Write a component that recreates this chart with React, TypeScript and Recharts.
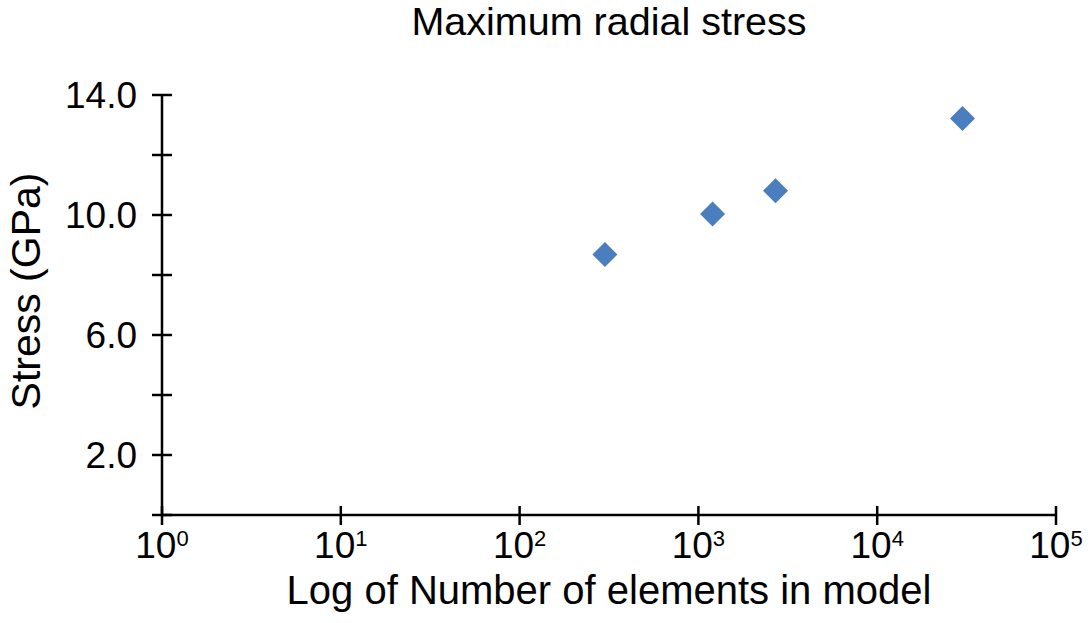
import React from 'react';
import { ScatterChart, Scatter, XAxis, YAxis, Label } from 'recharts';

// Mesh refinement study: number of elements vs peak radial stress
const elementCounts = [300, 1200, 2700, 30000];
const radialStress = [8.68, 10.03, 10.81, 13.22];

const xTicks = [1, 10, 100, 1000, 10000, 100000];
const yTicks = [0, 2, 4, 6, 8, 10, 12, 14];
const yLabelled = [2, 6, 10, 14];

const points = elementCounts.map((n, i) => ({ n, stress: radialStress[i] }));

const font = '"Liberation Sans", Arial, Helvetica, sans-serif';
const blue = '#4a7ebf';
const W = 1088;
const H = 623;

function Diamond(props: any) {
  const { cx, cy } = props;
  const r = 12.5;
  return (
    <polygon
      points={`${cx},${cy - r} ${cx + r},${cy} ${cx},${cy + r} ${cx - r},${cy}`}
      fill={blue}
    />
  );
}

function XTick(props: any) {
  const { x, y, payload } = props;
  const exp = Math.round(Math.log10(payload.value));
  return (
    <g>
      <line x1={x} x2={x} y1={y - 9} y2={y + 10} stroke="#000" strokeWidth={2.5} />
      <text x={x} y={y + 43} textAnchor="middle" fontFamily={font} fontSize={37} fill="#000">
        <tspan>10</tspan>
        <tspan dy={-12} fontSize={22}>{exp}</tspan>
      </text>
    </g>
  );
}

function YTick(props: any) {
  const { x, y, payload } = props;
  const v = payload.value;
  return (
    <g>
      <line x1={x - 10} x2={x + 10} y1={y} y2={y} stroke="#000" strokeWidth={2.5} />
      {yLabelled.includes(v) && (
        <text x={x - 25} y={y + 13} textAnchor="end" fontFamily={font} fontSize={37} fill="#000">
          {v.toFixed(1)}
        </text>
      )}
    </g>
  );
}

export default function App() {
  return (
    <div style={{ position: 'absolute', left: 0, top: 0, width: W, height: H, background: '#fff' }}>
      <div
        style={{
          position: 'absolute', left: 0, top: 2, width: 1218, textAlign: 'center',
          fontFamily: font, fontSize: 39.5, lineHeight: 1, color: '#000',
        }}
      >
        Maximum radial stress
      </div>
      <ScatterChart width={W} height={H} margin={{ top: 95, right: 32, bottom: 0, left: 0 }}>
        <XAxis
          type="number"
          dataKey="n"
          scale="log"
          domain={[1, 100000]}
          ticks={xTicks}
          allowDataOverflow
          height={108}
          tickSize={0}
          tickMargin={0}
          tick={<XTick />}
          stroke="#000"
          strokeWidth={2.5}
        >
          <Label
            content={({ viewBox }: any) => (
              <text
                x={viewBox.x + viewBox.width / 2}
                y={viewBox.y + 89}
                textAnchor="middle"
                fontFamily={font}
                fontSize={40}
                fill="#000"
              >
                Log of Number of elements in model
              </text>
            )}
          />
        </XAxis>
        <YAxis
          type="number"
          dataKey="stress"
          domain={[0, 14]}
          ticks={yTicks}
          width={162}
          tickSize={0}
          tickMargin={0}
          tick={<YTick />}
          stroke="#000"
          strokeWidth={2.5}
        >
          <Label
            content={({ viewBox }: any) => {
              const cx = 40;
              const cy = viewBox.y + viewBox.height / 2 - 14;
              return (
                <text
                  x={cx}
                  y={cy}
                  transform={`rotate(-90, ${cx}, ${cy})`}
                  textAnchor="middle"
                  fontFamily={font}
                  fontSize={41}
                  fill="#000"
                >
                  Stress (GPa)
                </text>
              );
            }}
          />
        </YAxis>
        <Scatter data={points} shape={<Diamond />} isAnimationActive={false} />
      </ScatterChart>
    </div>
  );
}
